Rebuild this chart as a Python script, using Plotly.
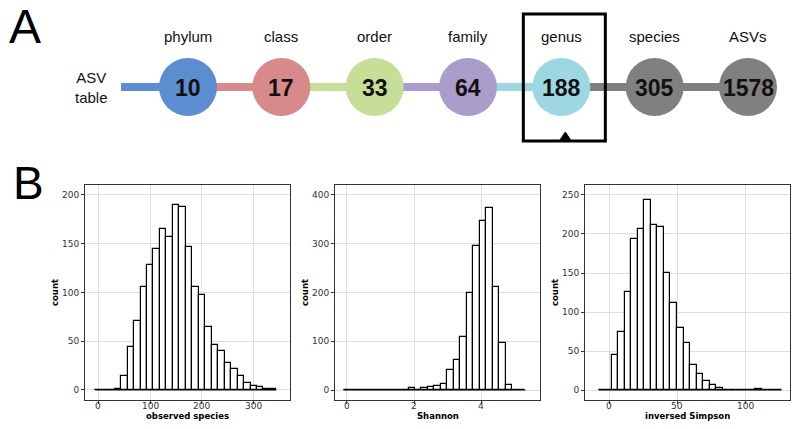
import plotly.graph_objects as go

# ---------------- data ----------------
levels = ["phylum", "class", "order", "family", "genus", "species", "ASVs"]
level_counts = [10, 17, 33, 64, 188, 305, 1578]
level_colors = ["#5b8dd0", "#d88a8a", "#c6de98", "#aa9ccb", "#9dd8e2", "#808080", "#808080"]
highlight_level = "genus"

# observed species histogram
obs_bin_start = -6.25
obs_bin_width = 12.5
obs_counts = [0, 0, 0, 1, 14, 44, 71, 105, 128, 144, 165, 157, 189, 187, 146,
              106, 97, 65, 46, 40, 28, 21, 14, 7, 4, 3, 1, 1]
obs_xticks = [0, 100, 200, 300]
obs_yticks = [0, 50, 100, 150, 200]

# Shannon histogram
sha_bin_start = -0.0965
sha_bin_width = 0.193
sha_counts = [0, 0, 0, 0, 0, 0, 0, 0, 0, 1, 4, 1, 5, 7, 9, 12, 41, 62, 109,
              198, 296, 347, 373, 211, 96, 10, 1, 1]
sha_xticks = [0, 2, 4]
sha_yticks = [0, 100, 200, 300, 400]

# inversed Simpson histogram
sim_bin_start = -7.66
sim_bin_width = 4.78
sim_counts = [0, 0, 45, 75, 126, 194, 206, 243, 211, 209, 150, 112, 80, 60, 32,
              20, 12, 6, 2, 0, 0, 0, 0, 0, 1, 0, 0, 0]
sim_xticks = [0, 50, 100]
sim_yticks = [0, 50, 100, 150, 200, 250]

# ---------------- layout helpers ----------------
W, H = 800, 429


def px(x):
    return x / W


def py(y):
    return 1 - y / H


fig = go.Figure()


def add_hist(start, width, counts, xa, ya):
    centers = [start + width * (i + 0.5) for i in range(len(counts))]
    fig.add_trace(go.Bar(x=centers, y=counts, width=width,
                         marker=dict(color="white", line=dict(color="black", width=1.2)),
                         xaxis=xa, yaxis=ya, showlegend=False, hoverinfo="x+y"))
    fig.add_trace(go.Scatter(x=[start, start + width * len(counts)], y=[0, 0],
                             mode="lines", line=dict(color="black", width=1.2),
                             xaxis=xa, yaxis=ya, showlegend=False, hoverinfo="skip"))


add_hist(obs_bin_start, obs_bin_width, obs_counts, "x", "y")
add_hist(sha_bin_start, sha_bin_width, sha_counts, "x2", "y2")
add_hist(sim_bin_start, sim_bin_width, sim_counts, "x3", "y3")

ydom = [1 - 400 / H, 1 - 185 / H]
tick_font = dict(family="DejaVu Sans", size=9, color="#333333")
axis_common = dict(showgrid=True, gridcolor="#dedede", gridwidth=1.2,
                   showline=True, linecolor="#333333", linewidth=1, mirror=True,
                   ticks="outside", ticklen=3, tickcolor="#333333",
                   tickfont=tick_font, zeroline=False, fixedrange=True)
title_font = dict(family="DejaVu Sans", size=8.5, color="black")

annotations = []
panels = [
    ("", 85, 290, [-26, 370], [-10.3, 210], obs_xticks, obs_yticks, "observed species"),
    ("2", 335, 540, [-0.35, 5.74], [-20.5, 420.5], sha_xticks, sha_yticks, "Shannon"),
    ("3", 585, 790, [-17.6, 132.4], [-12.8, 262.8], sim_xticks, sim_yticks, "inversed Simpson"),
]
for suf, x0, x1, xr, yr, xt, yt, xtitle in panels:
    fig.update_layout(**{
        "xaxis" + suf: dict(axis_common, domain=[px(x0), px(x1)], range=xr,
                            tickvals=xt, anchor="y" + suf, showticklabels=False),
        "yaxis" + suf: dict(axis_common, domain=ydom, range=yr, tickvals=yt,
                            anchor="x" + suf,
                            title=dict(text="<b>count</b>", font=title_font, standoff=2)),
    })
    # x tick labels placed through the x axis scale
    for v in xt:
        annotations.append(dict(x=v, xref="x" + suf, y=py(406), yref="paper",
                                text=str(v), showarrow=False, xanchor="center",
                                yanchor="middle", font=tick_font))
    annotations.append(dict(x=px((x0 + x1) / 2), y=py(416), xref="paper", yref="paper",
                            text="<b>" + xtitle + "</b>", showarrow=False,
                            xanchor="center", yanchor="middle", font=title_font))

# ---------------- panel A diagram ----------------
shapes = []
cx0, cx1, cy, r = 188, 748, 87, 29
step = (cx1 - cx0) / (len(levels) - 1)
centers = [cx0 + i * step for i in range(len(levels))]
line_start = 121

for i, col in enumerate(level_colors):
    xs = line_start if i == 0 else centers[i - 1]
    shapes.append(dict(type="line", xref="paper", yref="paper",
                       x0=px(xs), x1=px(centers[i]), y0=py(cy), y1=py(cy),
                       line=dict(color=col, width=8), layer="above"))
for i, (lab, val, col) in enumerate(zip(levels, level_counts, level_colors)):
    c = centers[i]
    shapes.append(dict(type="circle", xref="paper", yref="paper",
                       x0=px(c - r), x1=px(c + r), y0=py(cy + r), y1=py(cy - r),
                       fillcolor=col, line=dict(width=0), layer="above"))
    annotations.append(dict(x=px(c), y=py(cy + 1), xref="paper", yref="paper",
                            text="<b>%d</b>" % val, showarrow=False,
                            xanchor="center", yanchor="middle",
                            font=dict(family="Liberation Sans Narrow, Liberation Sans, Arial",
                                      size=23, color="#111111")))
    annotations.append(dict(x=px(c), y=py(37), xref="paper", yref="paper",
                            text=lab, showarrow=False, xanchor="center", yanchor="middle",
                            font=dict(family="Liberation Sans, Arial", size=15, color="#111111")))

# highlight box around genus
gi = levels.index(highlight_level)
gc = centers[gi]
shapes.append(dict(type="rect", xref="paper", yref="paper",
                   x0=px(gc - 38), x1=px(gc + 44), y0=py(141), y1=py(14),
                   line=dict(color="black", width=3), fillcolor="rgba(0,0,0,0)", layer="above"))
tx = gc + 4
shapes.append(dict(type="path", xref="paper", yref="paper",
                   path="M %f,%f L %f,%f L %f,%f Z" % (px(tx - 6), py(141), px(tx), py(132),
                                                       px(tx + 6), py(141)),
                   fillcolor="black", line=dict(color="black", width=1), layer="above"))

annotations.append(dict(x=px(91), y=py(87), xref="paper", yref="paper",
                        text="ASV<br>table", showarrow=False, xanchor="center", yanchor="middle",
                        font=dict(family="Liberation Sans, Arial", size=15, color="#111111")))
annotations.append(dict(x=px(25), y=py(27), xref="paper", yref="paper", text="A",
                        showarrow=False, xanchor="center", yanchor="middle",
                        font=dict(family="Liberation Sans, Arial", size=48, color="black")))
annotations.append(dict(x=px(28), y=py(183), xref="paper", yref="paper", text="B",
                        showarrow=False, xanchor="center", yanchor="middle",
                        font=dict(family="Liberation Sans, Arial", size=46, color="black")))

fig.update_layout(width=W, height=H, margin=dict(l=0, r=0, t=0, b=0),
                  paper_bgcolor="white", plot_bgcolor="white",
                  shapes=shapes, annotations=annotations, showlegend=False,
                  bargap=0)

fig.write_html("out.html", config={"displayModeBar": False},
               post_script="document.body.style.margin='0';document.body.style.overflow='hidden';")
